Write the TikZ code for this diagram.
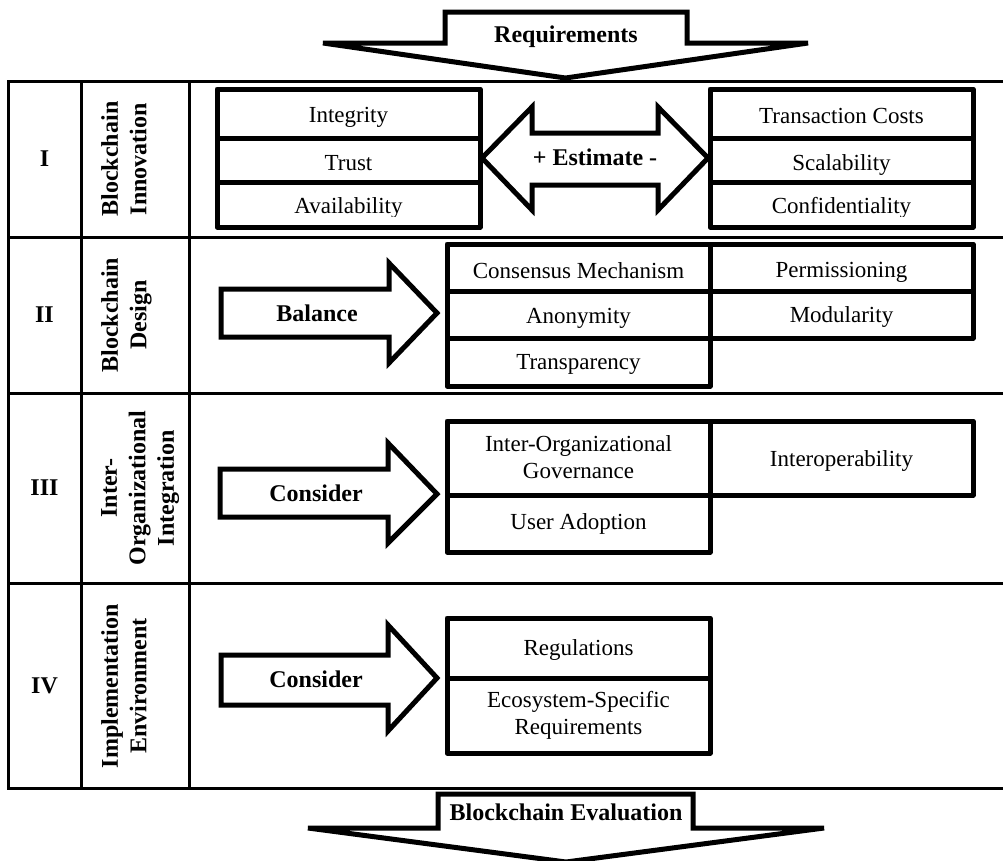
\documentclass[tikz,border=0pt]{standalone}
\usepackage{fontspec}
\setmainfont{Liberation Serif}
\newcommand\myBody{\fontsize{23}{27}\selectfont}
\newcommand\myBold{\fontsize{24}{28.5}\selectfont\bfseries}
\begin{document}
\begin{tikzpicture}[x=1pt,y=-1pt,
  tline/.style={line width=3pt,line cap=rect},
  cell/.style={draw,line width=5pt,line join=round,inner sep=0pt,minimum width=263pt},
  txt/.style={font=\myBody,inner sep=0pt,anchor=base,align=center},
  blockarrow/.style={draw,line width=5pt,line join=miter,miter limit=10},
  lbl/.style={font=\myBold,align=center,inner sep=0pt,anchor=base},
  vlbl/.style={font=\myBold,align=center,inner sep=0pt,rotate=90,anchor=north}]
\useasboundingbox (0,0) rectangle (1003,860);
% table grid
\foreach \yy in {81,237,393,583,788} \draw[tline] (8,\yy) -- (1003,\yy);
\foreach \xx in {8,81,189} \draw[tline] (\xx,81) -- (\xx,788);
% top arrow
\draw[blockarrow] (323,43) -- (445,43) -- (445,12) -- (687,12) -- (687,43) -- (808,43) -- (565.5,78) -- cycle;
\node[lbl] (req) at (566,42) {Requirements};
% bottom arrow
\draw[blockarrow] (308,828) -- (438,828) -- (438,794) -- (693,794) -- (693,828) -- (824,828) -- (566,862) -- cycle;
\node[lbl] (eval) at (566,820) {Blockchain Evaluation};
% row numerals
\node[lbl] (n1) at (44.5,166) {I};
\node[lbl] (n2) at (44.5,322) {II};
\node[lbl] (n3) at (44.5,495) {III};
\node[lbl] (n4) at (44.5,693) {IV};
% vertical labels
\node[vlbl] (v1) at (101,159) {Blockchain\\Innovation};
\node[vlbl] (v2) at (101,315) {Blockchain\\Design};
\node[vlbl] (v3) at (101,488) {Inter-\\Organizational\\Integration};
\node[vlbl] (v4) at (101,686) {Implementation\\Environment};
% Row I
\node[cell,minimum height=49pt] (integ) at (348.5,113.5) {};
\node[cell,minimum height=44pt] (trust) at (348.5,160) {};
\node[cell,minimum height=45pt] (avail) at (348.5,204.5) {};
\node[txt] (tinteg) at (348.5,122) {Integrity};
\node[txt] (ttrust) at (348.5,170) {Trust};
\begin{scope}
\clip (217,182) rectangle (480,216);
\node[txt] (tavail) at (348.5,213) {Availability};
\end{scope}
\node[cell,minimum height=49pt] (tc) at (841.5,113.5) {};
\node[cell,minimum height=44pt] (scal) at (841.5,160) {};
\node[cell,minimum height=45pt] (conf) at (841.5,204.5) {};
\node[txt] (ttc) at (841.5,123) {Transaction Costs};
\node[txt] (tscal) at (841.5,170) {Scalability};
\begin{scope}
\clip (710,182) rectangle (973,216);
\node[txt] (tconf) at (841.5,213) {Confidentiality};
\end{scope}
\draw[blockarrow] (482,158) -- (532,107) -- (532,133) -- (658,133) -- (658,107) -- (708,158) -- (658,210) -- (658,185) -- (532,185) -- (532,210) -- cycle;
\node[lbl] (est) at (595,165) {+ Estimate -};
% Row II
\draw[blockarrow] (221,289) -- (389,289) -- (389,263) -- (437,313) -- (389,363) -- (389,337) -- (221,337) -- cycle;
\node[lbl] (bal) at (317,321) {Balance};
\node[cell,minimum height=47pt] (cons) at (578.5,267.5) {};
\node[cell,minimum height=47pt] (anon) at (578.5,314.5) {};
\node[cell,minimum height=48pt] (transp) at (578.5,362) {};
\node[cell,minimum height=47pt] (perm) at (841.5,267.5) {};
\node[cell,minimum height=47pt] (modu) at (841.5,314.5) {};
\node[txt] (tcons) at (578.5,278) {Consensus Mechanism};
\node[txt] (tanon) at (578.5,323) {Anonymity};
\node[txt] (ttransp) at (578.5,369) {Transparency};
\node[txt] (tperm) at (841.5,277) {Permissioning};
\node[txt] (tmodu) at (841.5,322) {Modularity};
% Row III
\draw[blockarrow] (220,469) -- (388,469) -- (388,443) -- (437,494) -- (388,543) -- (388,517) -- (220,517) -- cycle;
\node[lbl] (con3) at (316,501) {Consider};
\node[cell,minimum height=74pt] (gov) at (578.5,458) {};
\node[cell,minimum height=57pt] (useradopt) at (578.5,523.5) {};
\node[cell,minimum height=74pt] (interop) at (841.5,458) {};
\node[txt] (tgov1) at (578.5,451) {Inter-Organizational};
\node[txt] (tgov2) at (578.5,478) {Governance};
\node[txt] (tinterop) at (841.5,466) {Interoperability};
\node[txt] (tuser) at (578.5,529) {User Adoption};
% Row IV
\draw[blockarrow] (221,655) -- (388,655) -- (388,625) -- (437,678) -- (388,731) -- (388,705) -- (221,705) -- cycle;
\node[lbl] (con4) at (316,687) {Consider};
\node[cell,minimum height=60pt] (regs) at (578.5,648) {};
\node[cell,minimum height=75pt] (ecos) at (578.5,715.5) {};
\node[txt] (tregs) at (578.5,655) {Regulations};
\node[txt] (tecos1) at (578.5,707) {Ecosystem-Specific};
\node[txt] (tecos2) at (578.5,734) {Requirements};
\end{tikzpicture}
\end{document}
